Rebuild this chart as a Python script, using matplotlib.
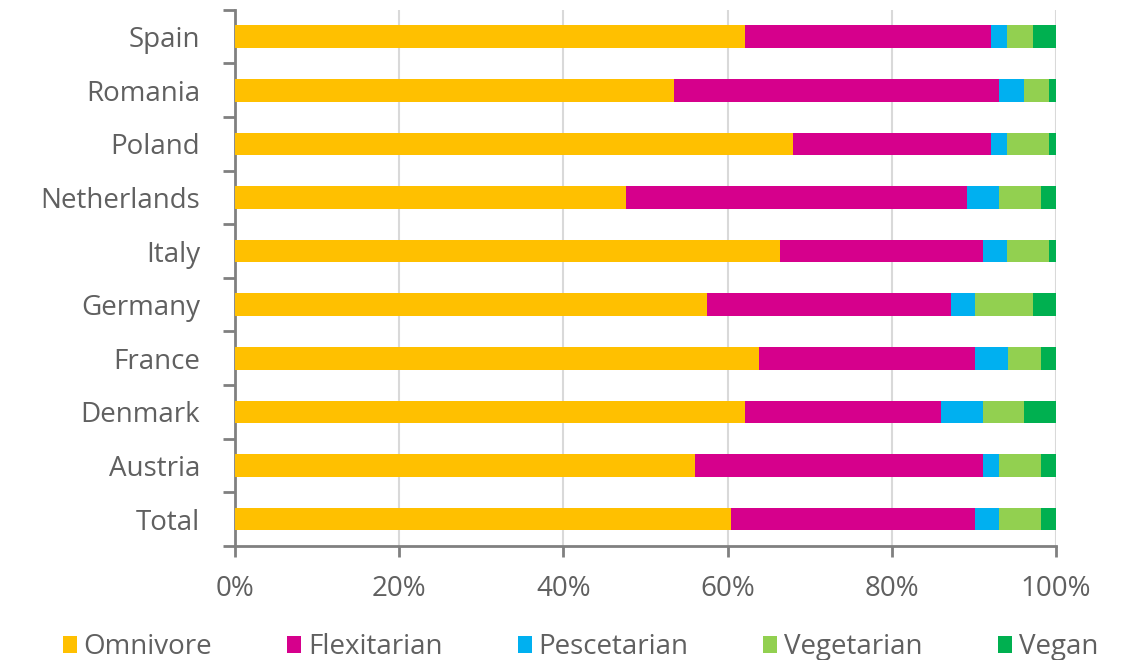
import numpy as np
import matplotlib.pyplot as plt
from matplotlib.ticker import FixedLocator, PercentFormatter

plt.rcParams['font.family'] = ['Open Sans', 'DejaVu Sans']

countries = ["Spain", "Romania", "Poland", "Netherlands", "Italy",
             "Germany", "France", "Denmark", "Austria", "Total"]
omnivore = [62.1, 53.5, 68.0, 47.6, 66.4, 57.5, 63.8, 62.1, 56.0, 60.4]
flexitarian = [30.0, 39.6, 24.1, 41.6, 24.7, 29.7, 26.3, 23.9, 35.1, 29.7]
pescetarian = [1.9, 3.0, 1.9, 3.9, 2.9, 2.9, 4.1, 5.1, 2.0, 3.0]
vegetarian = [3.2, 3.0, 5.1, 5.1, 5.1, 7.1, 4.0, 5.0, 5.1, 5.1]
vegan = [2.8, 0.9, 0.9, 1.8, 0.9, 2.8, 1.8, 3.9, 1.8, 1.8]

series = [("Omnivore", omnivore, "#FFC000"),
          ("Flexitarian", flexitarian, "#D6008C"),
          ("Pescetarian", pescetarian, "#00B0F0"),
          ("Vegetarian", vegetarian, "#92D050"),
          ("Vegan", vegan, "#00B050")]

grey = "#808080"
text_grey = "#606060"

fig = plt.figure(figsize=(11.27, 6.6), dpi=100)
ax = fig.add_axes([0.2085, 0.173, 0.7285, 0.812])

y = np.arange(len(countries))
left = np.zeros(len(countries))
for name, vals, col in series:
    ax.barh(y, vals, left=left, height=0.42, color=col, label=name, zorder=3)
    left += np.array(vals)

ax.set_xlim(0, 100)
ax.set_ylim(9.5, -0.5)
ax.set_xticks(np.arange(0, 101, 20))
ax.xaxis.set_major_formatter(PercentFormatter(decimals=0))
ax.set_yticks(y)
ax.set_yticklabels(countries)
ax.yaxis.set_minor_locator(FixedLocator(np.arange(-0.5, 10, 1)))
ax.tick_params(axis='y', which='major', length=0, pad=25, labelsize=20, labelcolor=text_grey)
ax.tick_params(axis='y', which='minor', length=9, width=2, color=grey, direction='out')
ax.tick_params(axis='x', length=8, width=2, color=grey, pad=13, labelsize=20, labelcolor=text_grey)

ax.grid(axis='x', color="#D9D9D9", linewidth=1.5, zorder=0)
for s in ["top", "right"]:
    ax.spines[s].set_visible(False)
for s in ["left", "bottom"]:
    ax.spines[s].set_color(grey)
    ax.spines[s].set_linewidth(2)

fig.legend(loc="lower center", bbox_to_anchor=(0.515, -0.04), ncol=5, frameon=False,
           fontsize=20, labelcolor=text_grey, handlelength=0.5, handleheight=0.6,
           handletextpad=0.25, columnspacing=2.7)

fig.savefig("out.png", dpi=100)
